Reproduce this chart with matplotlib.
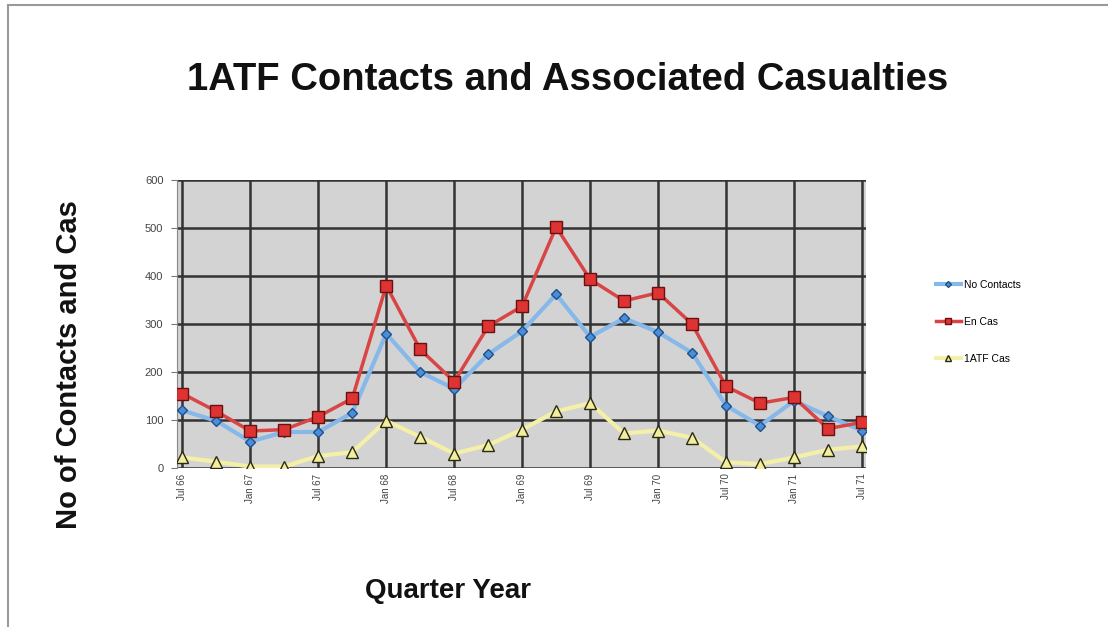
import matplotlib
matplotlib.use("Agg")
import matplotlib.pyplot as plt
from matplotlib.patches import Rectangle

plt.rcParams['font.family'] = ['Liberation Sans', 'DejaVu Sans']

# quarterly data, Jul 66 - Jul 71
quarters = ["Jul 66", "Oct 66", "Jan 67", "Apr 67", "Jul 67", "Oct 67", "Jan 68",
            "Apr 68", "Jul 68", "Oct 68", "Jan 69", "Apr 69", "Jul 69", "Oct 69",
            "Jan 70", "Apr 70", "Jul 70", "Oct 70", "Jan 71", "Apr 71", "Jul 71"]
no_contacts = [120, 98, 55, 75, 75, 115, 280, 200, 165, 237, 285, 362, 273, 312,
               283, 240, 130, 88, 140, 108, 78]
en_cas = [155, 118, 77, 80, 107, 145, 380, 247, 180, 295, 337, 502, 393, 348,
          365, 300, 170, 135, 147, 82, 95]
atf_cas = [22, 13, 3, 3, 25, 33, 98, 65, 30, 48, 80, 118, 135, 72,
           78, 63, 12, 8, 22, 38, 45]

fig = plt.figure(figsize=(11.08, 6.27), dpi=100)
# outer chart frame
fig.patches.append(Rectangle((8 / 1108, -0.05), 1.2, (627 - 5) / 627 + 0.05,
                             transform=fig.transFigure, fill=False,
                             edgecolor="#999999", linewidth=1.5))

ax = fig.add_axes([0.16, 0.2536, 0.6216, 0.4594])
ax.set_facecolor("#d3d3d3")
x = list(range(len(quarters)))

ax.plot(x, no_contacts, color="#86b8ea", linewidth=3, marker="D", markersize=5,
        markerfacecolor="#4a8fd6", markeredgecolor="#1f4f8a", label="No Contacts", zorder=3)
ax.plot(x, en_cas, color="#d94545", linewidth=2.5, marker="s", markersize=8,
        markerfacecolor="#dd3333", markeredgecolor="#6b1010", label="En Cas", zorder=4)
ax.plot(x, atf_cas, color="#f4f0a8", linewidth=3, marker="^", markersize=8,
        markerfacecolor="#f2eea0", markeredgecolor="#2a2a10", label="1ATF Cas", zorder=3)

ax.set_xlim(-0.15, 20.12)
ax.set_ylim(0, 600)
ax.set_yticks(range(0, 601, 100))
ax.set_xticks(x[::2])
ax.set_xticklabels(quarters[::2], rotation=90, fontsize=7, color="#444444")
ax.tick_params(axis="y", labelsize=8, labelcolor="#444444", length=4,
               color="#777777", direction="out", pad=6)
ax.tick_params(axis="x", length=0, pad=4)
ax.grid(True, color="#333333", linewidth=1.8)
ax.set_axisbelow(True)
for s in ax.spines.values():
    s.set_visible(False)
ax.spines["left"].set_visible(True)
ax.spines["left"].set_color("#888888")

fig.text(0.512, 0.872, "1ATF Contacts and Associated Casualties",
         ha="center", va="center", fontsize=27.5, fontweight="bold", color="#111111")
fig.text(0.062, 0.418, "No of Contacts and Cas", rotation=90,
         ha="center", va="center", fontsize=21, fontweight="bold", color="#111111")
fig.text(0.404, 0.057, "Quarter Year", ha="center", va="center",
         fontsize=20, fontweight="bold", color="#111111")

fig.legend(loc="center left", bbox_to_anchor=(0.836, 0.487), frameon=False,
           fontsize=7.5, labelspacing=2.6, handlelength=2.4, handletextpad=0.3,
           markerscale=0.6)

fig.savefig("out.png", dpi=100, facecolor="white")
